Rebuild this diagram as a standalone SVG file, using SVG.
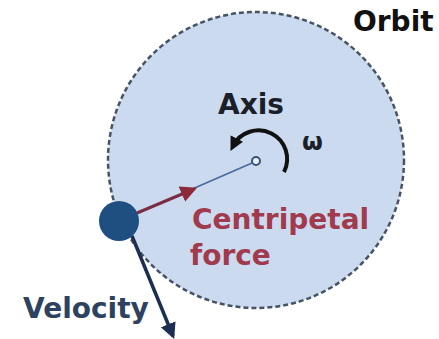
<svg xmlns="http://www.w3.org/2000/svg" width="439" height="339" viewBox="0 0 439 339">
<style>
text{font-family:"DejaVu Sans",Verdana,sans-serif;font-weight:bold;font-size:28px}
</style>
<defs>
<marker id="ah" viewBox="0 0 10 10" refX="8" refY="5" markerWidth="4.5" markerHeight="4.5" orient="auto" markerUnits="strokeWidth"><path d="M0,0L10,5L0,10z" fill="#1c2f52"/></marker>
<marker id="ahr" viewBox="0 0 10 10" refX="8" refY="5" markerWidth="5.5" markerHeight="5.5" orient="auto" markerUnits="strokeWidth"><path d="M0,0L10,5L0,10z" fill="#8a2a3a"/></marker>
<marker id="ahk" viewBox="0 0 10 10" refX="6" refY="5" markerWidth="3.5" markerHeight="3.5" orient="auto" markerUnits="strokeWidth"><path d="M0,0L10,5L0,10z" fill="#111"/></marker>
</defs>
<rect width="439" height="339" fill="#fff"/>
<g id="orbit">
<circle cx="256" cy="160" r="148" fill="#cbdaef" stroke="#465364" stroke-width="2.5" stroke-dasharray="5 3"/>
<text x="353" y="31" fill="#111">Orbit</text>
</g>
<g id="axis">
<circle cx="256" cy="161" r="4" fill="#e8eef8" stroke="#3a5478" stroke-width="2"/>
<text x="251" y="114" text-anchor="middle" fill="#1a1f2a">Axis</text>
<path d="M284,172 A28,28 0 1 0 233,146" fill="none" stroke="#111" stroke-width="4" marker-end="url(#ahk)"/>
<text x="302" y="150" fill="#1a1f2a" style="font-size:24px">ω</text>
</g>
<g id="connectors">
<line x1="190" y1="190" x2="252" y2="163" stroke="#4a6aa0" stroke-width="1.8"/>
<line x1="137" y1="213" x2="194" y2="189" stroke="#7a2c44" stroke-width="3" marker-end="url(#ahr)"/>
<line x1="132" y1="236" x2="173" y2="336" stroke="#1c2f52" stroke-width="3.5" marker-end="url(#ah)"/>
</g>
<g id="mass">
<circle cx="119" cy="221" r="20" fill="#1f4e80"/>
</g>
<g id="labels">
<text x="192" y="229" fill="#a23a4e">Centripetal</text>
<text x="190" y="265" fill="#a23a4e">force</text>
<text x="23" y="318" fill="#2c4260">Velocity</text>
</g>
</svg>
